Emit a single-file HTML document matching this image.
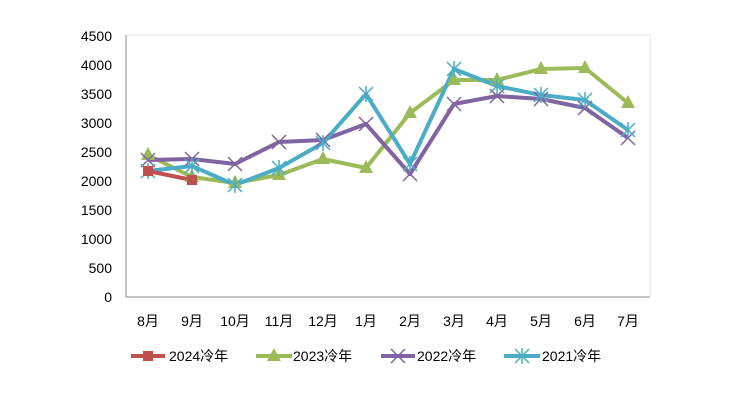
<!DOCTYPE html>
<html><head><meta charset="utf-8"><style>
body{margin:0;background:#fff;width:745px;height:402px;overflow:hidden}
text{font-family:"Liberation Sans","Noto Sans CJK SC",sans-serif;font-size:14px;fill:#000}
</style></head><body>
<svg width="745" height="402" viewBox="0 0 745 402" xmlns="http://www.w3.org/2000/svg">
<defs>
<g id="sq"><rect x="-5" y="-5" width="10" height="10" fill="#c0504d"/></g>
<g id="tri"><polygon points="0,-8 7,5 -7,5" fill="#9bbb59"/></g>
<g id="x"><path d="M-7,-7L7,7M7,-7L-7,7" stroke="#8064a2" stroke-width="1.5"/></g>
<g id="st"><path d="M-7,-7L7,7M7,-7L-7,7M0,-8V8" stroke="#4bacc6" stroke-width="1.5"/></g>
</defs>
<rect x="126" y="35" width="524" height="262" fill="none" stroke="#e6e6e6"/>
<line x1="126" y1="35" x2="126" y2="297" stroke="#888"/>
<line x1="126" y1="297" x2="650" y2="297" stroke="#888"/>
<g text-anchor="end">
<text x="112" y="302">0</text><text x="112" y="273">500</text><text x="112" y="244">1000</text><text x="112" y="215">1500</text><text x="112" y="186">2000</text><text x="112" y="157">2500</text><text x="112" y="128">3000</text><text x="112" y="99">3500</text><text x="112" y="70">4000</text><text x="112" y="41">4500</text>
</g>
<g text-anchor="middle">
<text x="148" y="326">8月</text><text x="192" y="326">9月</text><text x="235" y="326">10月</text><text x="279" y="326">11月</text><text x="323" y="326">12月</text><text x="366" y="326">1月</text><text x="410" y="326">2月</text><text x="454" y="326">3月</text><text x="497" y="326">4月</text><text x="541" y="326">5月</text><text x="585" y="326">6月</text><text x="628" y="326">7月</text>
</g>
<g fill="none" stroke-width="4" stroke-linejoin="round">
<polyline stroke="#9bbb59" points="148,155 192,177 235,183 279,175 323,159 366,168 410,113 454,80 497,80 541,69 585,68 628,103"/>
<polyline stroke="#8064a2" points="148,160 192,159 235,164 279,142 323,140 366,124 410,174 454,104 497,96 541,99 585,108 628,138"/>
<polyline stroke="#4bacc6" points="148,171 192,166 235,185 279,168 323,143 366,94 410,164 454,69 497,86 541,95 585,100 628,130"/>
<polyline stroke="#c0504d" points="148,171 192,180"/>
</g>
<use href="#tri" x="148" y="155"/><use href="#tri" x="192" y="177"/><use href="#tri" x="235" y="183"/><use href="#tri" x="279" y="175"/><use href="#tri" x="323" y="159"/><use href="#tri" x="366" y="168"/><use href="#tri" x="410" y="113"/><use href="#tri" x="454" y="80"/><use href="#tri" x="497" y="80"/><use href="#tri" x="541" y="69"/><use href="#tri" x="585" y="68"/><use href="#tri" x="628" y="103"/>
<use href="#x" x="148" y="160"/><use href="#x" x="192" y="159"/><use href="#x" x="235" y="164"/><use href="#x" x="279" y="142"/><use href="#x" x="323" y="140"/><use href="#x" x="366" y="124"/><use href="#x" x="410" y="174"/><use href="#x" x="454" y="104"/><use href="#x" x="497" y="96"/><use href="#x" x="541" y="99"/><use href="#x" x="585" y="108"/><use href="#x" x="628" y="138"/>
<use href="#st" x="148" y="171"/><use href="#st" x="192" y="166"/><use href="#st" x="235" y="185"/><use href="#st" x="279" y="168"/><use href="#st" x="323" y="143"/><use href="#st" x="366" y="94"/><use href="#st" x="410" y="164"/><use href="#st" x="454" y="69"/><use href="#st" x="497" y="86"/><use href="#st" x="541" y="95"/><use href="#st" x="585" y="100"/><use href="#st" x="628" y="130"/>
<use href="#sq" x="148" y="171"/><use href="#sq" x="192" y="180"/>
<line x1="131" y1="356" x2="165" y2="356" stroke="#c0504d" stroke-width="4"/><use href="#sq" x="148" y="356"/>
<text x="169" y="361">2024冷年</text>
<line x1="256" y1="356" x2="292" y2="356" stroke="#9bbb59" stroke-width="4"/><use href="#tri" x="274" y="356"/>
<text x="293" y="361">2023冷年</text>
<line x1="381" y1="356" x2="415" y2="356" stroke="#8064a2" stroke-width="4"/><use href="#x" x="398" y="356"/>
<text x="417" y="361">2022冷年</text>
<line x1="504" y1="356" x2="540" y2="356" stroke="#4bacc6" stroke-width="4"/><use href="#st" x="522" y="356"/>
<text x="542" y="361">2021冷年</text>
</svg>
</body></html>
